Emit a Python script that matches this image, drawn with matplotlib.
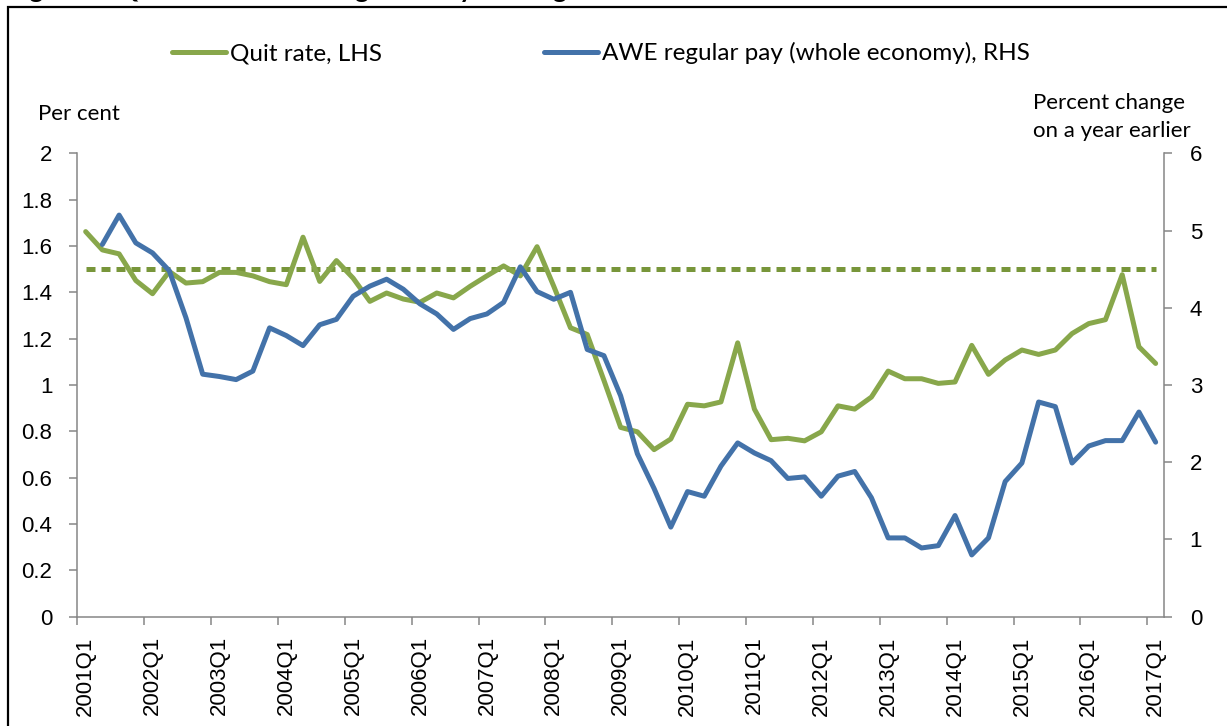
import matplotlib
matplotlib.use("Agg")
import matplotlib.pyplot as plt
from matplotlib.lines import Line2D
from matplotlib.patches import Rectangle
import numpy as np

# ---------------- data ----------------
quarters = [f"{y}Q{q}" for y in range(2001, 2018) for q in range(1, 5)][:65]

quit_rate = [1.662, 1.583, 1.566, 1.451, 1.394, 1.490, 1.440, 1.446,
             1.486, 1.486, 1.471, 1.446, 1.433, 1.638, 1.447, 1.537,
             1.461, 1.361, 1.397, 1.371, 1.357, 1.397, 1.376, 1.426,
             1.471, 1.514, 1.471, 1.597, 1.426, 1.247, 1.218, 1.020,
             0.817, 0.798, 0.721, 0.767, 0.917, 0.910, 0.927, 1.182,
             0.896, 0.764, 0.770, 0.759, 0.798, 0.910, 0.896, 0.948,
             1.060, 1.027, 1.027, 1.007, 1.013, 1.171, 1.046, 1.108,
             1.151, 1.132, 1.151, 1.222, 1.265, 1.282, 1.476, 1.165,
             1.093]

awe_growth = [np.nan, 4.82, 5.20, 4.84, 4.71, 4.48, 3.87, 3.14,
              3.11, 3.07, 3.18, 3.74, 3.64, 3.51, 3.78, 3.85,
              4.15, 4.28, 4.37, 4.24, 4.05, 3.92, 3.72, 3.86,
              3.92, 4.07, 4.53, 4.21, 4.11, 4.20, 3.46, 3.38,
              2.86, 2.11, 1.66, 1.16, 1.62, 1.56, 1.95, 2.25,
              2.12, 2.02, 1.79, 1.81, 1.56, 1.82, 1.88, 1.54,
              1.02, 1.02, 0.89, 0.92, 1.31, 0.80, 1.02, 1.75,
              1.99, 2.78, 2.72, 1.99, 2.21, 2.28, 2.28, 2.65,
              2.26]

quit_rate_average = 1.5

left_ticks = [0, 0.2, 0.4, 0.6, 0.8, 1.0, 1.2, 1.4, 1.6, 1.8, 2.0]
right_ticks = [0, 1, 2, 3, 4, 5, 6]

# ---------------- style ----------------
GREEN = "#88A74B"
GREEN_DASH = "#78963A"
BLUE = "#4372A9"
AXIS = "#868686"
TICK_FONT = "Liberation Sans"
TEXT_FONT = "Lato"

W, H = 1227, 726
fig = plt.figure(figsize=(W / 100, H / 100), dpi=100)

x_left, x_right, y_top, y_bot = 77.3, 1164.0, 153.3, 616.7
ax = fig.add_axes([x_left / W, 1 - y_bot / H, (x_right - x_left) / W, (y_bot - y_top) / H])
ax.set_facecolor("none")

x = np.arange(len(quarters))
ax.plot(x, [quit_rate_average] * len(quarters), color=GREEN_DASH, lw=3.6,
        ls=(0, (1.8, 1.2)), zorder=2)
ax.plot(x, quit_rate, color=GREEN, lw=3.6, solid_joinstyle="round",
        solid_capstyle="round", zorder=3)

ax2 = ax.twinx()
ax2.plot(x, awe_growth, color=BLUE, lw=3.6, solid_joinstyle="round",
         solid_capstyle="round", zorder=4)

ax.set_xlim(-0.5, len(quarters) - 0.5)
ax.set_ylim(0, 2)
ax2.set_ylim(0, 6)

# x ticks: labels at every 4th quarter, tick marks at category boundaries
ax.set_xticks(x[::4])
ax.set_xticklabels(quarters[::4], rotation=90, fontfamily=TICK_FONT, fontsize=16)
ax.set_xticks(x[::4] - 0.5, minor=True)
ax.tick_params(axis="x", which="major", length=0, pad=14)
ax.tick_params(axis="x", which="minor", length=6, width=1.1, color=AXIS, direction="out")

ax.set_yticks(left_ticks)
ax.set_yticklabels([f"{v:g}" for v in left_ticks], fontfamily=TICK_FONT, fontsize=16)
ax.tick_params(axis="y", length=6, width=1.1, color=AXIS, direction="out", pad=12)

ax2.set_yticks(right_ticks)
ax2.set_yticklabels([f"{v:g}" for v in right_ticks], fontfamily=TICK_FONT, fontsize=16)
ax2.tick_params(axis="y", length=6, width=1.1, color=AXIS, direction="out", pad=12.5)

for a in (ax, ax2):
    a.spines["top"].set_visible(False)
ax.spines["right"].set_visible(False)
ax2.spines["left"].set_visible(False)
ax2.spines["bottom"].set_visible(False)
for s in ("left", "bottom"):
    ax.spines[s].set_color(AXIS)
    ax.spines[s].set_linewidth(1.1)
ax2.spines["right"].set_color(AXIS)
ax2.spines["right"].set_linewidth(1.1)

# axis titles
fig.text(38 / W, 1 - 114 / H, "Per cent", ha="left", va="center",
         fontfamily=TEXT_FONT, fontsize=16)
fig.text(1033 / W, 1 - 117 / H, "Percent change\non a year earlier", ha="left",
         va="center", fontfamily=TEXT_FONT, fontsize=16, linespacing=1.45)

# legend
handles = [Line2D([], [], color=GREEN, lw=3.6, solid_capstyle="round"),
           Line2D([], [], color=BLUE, lw=3.6, solid_capstyle="round")]
labels = ["Quit rate, LHS", "AWE regular pay (whole economy), RHS"]
LEG_PT = 17.5
fs_px = LEG_PT * 100 / 72
fig.legend(handles, labels, ncol=2, loc="center left",
           bbox_to_anchor=(172 / W, 1 - 53 / H), frameon=False,
           borderpad=0, borderaxespad=0, handlelength=54 / fs_px,
           handletextpad=4 / fs_px, columnspacing=162 / fs_px,
           prop={"family": TEXT_FONT, "size": LEG_PT})

# title (cut off at the top edge, as in the reference) and frame
fig.text(8 / W, 1 + 1.5 / H, "Figure 3: Quit rates and average weekly earnings",
         ha="left", va="baseline", fontfamily=TEXT_FONT, fontweight="bold", fontsize=19)
fig.patches.append(Rectangle((8 / W, -0.05), 1.2, 1.05 - 7 / H, transform=fig.transFigure,
                             fill=False, ec="black", lw=1.6))

fig.savefig("out.png", dpi=100)
